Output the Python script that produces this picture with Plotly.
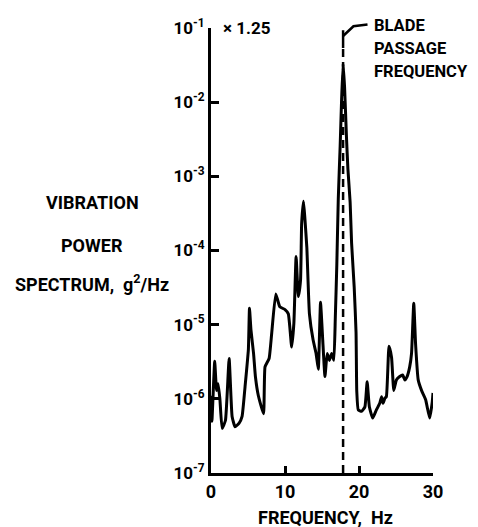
import plotly.graph_objects as go

# vibration power spectrum (Hz, g^2/Hz)
freq = [0.0, 0.12, 0.5, 0.75, 0.95, 1.2, 1.5, 1.95, 2.45, 2.85, 3.25, 3.8, 4.2, 4.6,
        5.05, 5.2, 5.4, 5.75, 6.0, 6.4, 7.1, 7.3, 7.85, 8.2, 8.75, 9.3, 10.0, 10.45,
        10.9, 11.2, 11.5, 11.8, 12.1, 12.25, 12.5, 12.7, 12.95, 13.3, 13.8, 14.2, 14.5,
        14.8, 15.1, 15.4, 15.7, 16.0, 16.3, 16.6, 16.8, 17.0, 17.2, 17.45, 17.65, 17.85,
        18.05, 18.3, 18.5, 18.8, 19.0, 19.35, 19.6, 19.7, 19.9, 20.35, 20.8, 21.1, 21.4,
        21.85, 22.35, 22.8, 23.05, 23.25, 23.5, 23.7, 24.05, 24.4, 24.7, 25.05, 25.5,
        25.9, 26.2, 26.5, 26.85, 27.1, 27.4, 27.65, 28.0, 28.45, 29.0, 29.55, 29.9, 30.0]
psd = [1.1e-6, 5.0e-7, 3.2e-6, 1.3e-6, 1.6e-6, 1.0e-6, 4.0e-7, 5.1e-7, 3.5e-6, 5.8e-7,
       4.2e-7, 4.7e-7, 5.8e-7, 1.45e-6, 4.6e-6, 1.66e-5, 8.5e-6, 4.1e-6, 2.0e-6, 1.1e-6,
       6.3e-7, 2.7e-6, 3.5e-6, 7.6e-6, 2.6e-5, 1.74e-5, 1.6e-5, 1.4e-5, 5.0e-6, 1.05e-5,
       8.3e-5, 2.4e-5, 4.0e-5, 2.3e-4, 4.6e-4, 2.6e-4, 1.1e-4, 1.4e-5, 6.2e-6, 4.1e-6,
       2.5e-6, 2.0e-5, 6.2e-6, 2.0e-6, 4.1e-6, 3.3e-6, 4.1e-6, 3.3e-6, 1.26e-5, 6.3e-5,
       5.0e-4, 2.5e-3, 1.1e-2, 3.3e-2, 1.6e-2, 3.5e-3, 1.26e-3, 4.5e-4, 1.26e-4, 3.2e-5,
       7.9e-6, 1.26e-6, 7.1e-7, 6.8e-7, 7.8e-7, 1.7e-6, 7.8e-7, 5.5e-7, 7.1e-7, 8.7e-7,
       1.07e-6, 8.7e-7, 1.02e-6, 1.07e-6, 5.1e-6, 3.6e-6, 1.3e-6, 1.8e-6, 2.0e-6, 2.1e-6,
       1.8e-6, 2.0e-6, 2.7e-6, 4.1e-6, 1.95e-5, 5.4e-6, 1.8e-6, 1.3e-6, 9.8e-7, 5.5e-7,
       9.1e-7, 1.2e-6]

blade_freq = 17.85
x_ticks = [0, 10, 20, 30]
y_exponents = [-7, -6, -5, -4, -3, -2, -1]

FONT = "Roboto, Liberation Sans, sans-serif"


def label_font(size):
    return dict(size=size, family=FONT, color="black", weight="bold")


fig = go.Figure()
fig.add_trace(go.Scatter(x=freq, y=psd, mode="lines",
                         line=dict(color="black", width=3, shape="spline", smoothing=0.4),
                         showlegend=False))

# dashed marker line at blade passage frequency, with its leader
fig.add_shape(type="line", xref="x", yref="paper", x0=blade_freq, x1=blade_freq,
              y0=0.0, y1=0.955, line=dict(color="black", width=2.5, dash="8px,5px"))
fig.add_shape(type="line", xref="x", yref="paper", x0=blade_freq, x1=blade_freq,
              y0=0.955, y1=0.995, line=dict(color="black", width=2.5))
fig.add_shape(type="path", xref="x", yref="paper",
              path=f"M {blade_freq},0.982 L {blade_freq + 1.4},1.004 L {blade_freq + 3.3},1.008",
              line=dict(color="black", width=2.5))

for txt, yy in [("BLADE", 1.006), ("PASSAGE", 0.953), ("FREQUENCY", 0.902)]:
    fig.add_annotation(text=txt, xref="x", yref="paper", x=21.7, y=yy,
                       xanchor="left", yanchor="middle", showarrow=False,
                       font=label_font(16.5))
fig.add_annotation(text="× 1.25", xref="x", yref="paper", x=1.3, y=1.0,
                   xanchor="left", yanchor="middle", showarrow=False,
                   font=label_font(17))

for txt, yy in [("VIBRATION", 0.607), ("POWER", 0.512), ("SPECTRUM,  g<sup>2</sup>/Hz", 0.427)]:
    fig.add_annotation(text=txt, xref="paper", yref="paper", x=-0.535, y=yy,
                       xanchor="center", yanchor="middle", showarrow=False,
                       font=label_font(18))
fig.add_annotation(text="FREQUENCY,  Hz", xref="paper", yref="paper", x=0.514, y=-0.099,
                   xanchor="center", yanchor="middle", showarrow=False,
                   font=label_font(18))

fig.update_xaxes(range=[0, 30], tickvals=x_ticks, ticks="inside", ticklen=7, tickwidth=2.5,
                 tickcolor="black", showline=True, linecolor="black", linewidth=3,
                 showgrid=False, zeroline=False, automargin=False,
                 tickfont=label_font(18))
fig.update_yaxes(type="log", range=[-7, -1], tickvals=[10.0 ** e for e in y_exponents],
                 ticktext=[f"10<sup>{e}</sup>" for e in y_exponents],
                 ticks="inside", ticklen=8, tickwidth=2.5, tickcolor="black",
                 showline=True, linecolor="black", linewidth=3,
                 showgrid=False, zeroline=False, automargin=False,
                 tickfont=label_font(17))

# page body adds an 8px offset, so margins are shifted to keep the plot in place
fig.update_layout(width=478, height=527, margin=dict(l=203, r=53, t=20, b=62),
                  plot_bgcolor="white", paper_bgcolor="white", showlegend=False)

fig.write_html("out.html")
